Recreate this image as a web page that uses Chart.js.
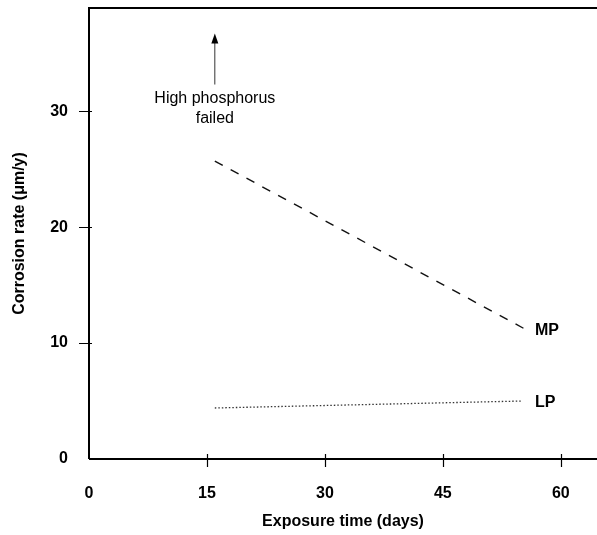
<!DOCTYPE html>
<html>
<head>
<meta charset="utf-8">
<script src="https://cdn.jsdelivr.net/npm/chart.js@4/dist/chart.umd.min.js"></script>
<style>
  html, body { margin: 0; padding: 0; background: #fff; overflow: hidden; }
  #wrap { width: 597px; height: 535px; }
</style>
</head>
<body>
<div id="wrap"><canvas id="corrosionChart" width="597" height="535"></canvas></div>
<script>
// values
const mpDays = [16, 56];
const mpRate = [25.7, 11.0];
const lpDays = [16, 55];
const lpRate = [4.4, 5.0];
const xTicks = [0, 15, 30, 45, 60];
const yTicks = [0, 10, 20, 30];

const boldFont = { family: 'Liberation Sans, Arial, sans-serif', size: 16, weight: 'bold' };

function toPoints(xs, ys) {
    return xs.map(function (x, i) { return { x: x, y: ys[i] }; });
}

function noPadding(scale) {
    scale.paddingTop = 0;
    scale.paddingBottom = 0;
    scale.paddingLeft = 0;
    scale.paddingRight = 0;
}

// frame, crossing tick marks and text notes
const extras = {
    id: 'extras',
    afterDraw: function (chart) {
        const c = chart.ctx;
        const a = chart.chartArea;
        const xs = chart.scales.x;
        const ys = chart.scales.y;
        c.save();
        c.strokeStyle = '#000';
        c.lineWidth = 2;
        c.beginPath();
        c.moveTo(a.left, a.bottom);
        c.lineTo(a.left, a.top);
        c.lineTo(a.right, a.top);
        c.moveTo(a.left, a.bottom);
        c.lineTo(a.right, a.bottom);
        c.stroke();

        c.lineWidth = 1.2;
        c.beginPath();
        xTicks.forEach(function (t) {
            if (t === 0) return;
            const px = Math.round(xs.getPixelForValue(t)) + 0.5;
            c.moveTo(px, a.bottom - 5);
            c.lineTo(px, a.bottom + 8);
        });
        yTicks.forEach(function (t) {
            if (t === 0) return;
            const py = Math.round(ys.getPixelForValue(t)) + 0.5;
            c.moveTo(a.left - 10, py);
            c.lineTo(a.left + 3, py);
        });
        c.stroke();

        // series labels
        c.fillStyle = '#000';
        c.font = 'bold 16px Liberation Sans, Arial, sans-serif';
        c.textAlign = 'left';
        c.textBaseline = 'middle';
        c.fillText('MP', xs.getPixelForValue(56.7), ys.getPixelForValue(11.1));
        c.fillText('LP', xs.getPixelForValue(56.7), ys.getPixelForValue(4.9));

        // note with arrow
        const ax = xs.getPixelForValue(16);
        c.font = '16px Liberation Sans, Arial, sans-serif';
        c.textAlign = 'center';
        c.fillText('High phosphorus', ax, ys.getPixelForValue(31.1));
        c.fillText('failed', ax, ys.getPixelForValue(29.4));

        c.strokeStyle = '#333';
        c.lineWidth = 1;
        c.beginPath();
        c.moveTo(ax, ys.getPixelForValue(32.3));
        c.lineTo(ax, ys.getPixelForValue(36.0));
        c.stroke();
        const tip = ys.getPixelForValue(36.7);
        c.fillStyle = '#000';
        c.beginPath();
        c.moveTo(ax, tip);
        c.lineTo(ax - 3.5, tip + 10);
        c.lineTo(ax + 3.5, tip + 10);
        c.closePath();
        c.fill();
        c.restore();
    }
};

const ctx = document.getElementById('corrosionChart').getContext('2d');

const corrosionChart = new Chart(ctx, {
    type: 'scatter',
    data: {
        datasets: [{
            label: 'MP',
            data: toPoints(mpDays, mpRate),
            showLine: true,
            borderColor: '#111',
            borderWidth: 1.4,
            borderDash: [9, 9],
            pointRadius: 0,
        }, {
            label: 'LP',
            data: toPoints(lpDays, lpRate),
            showLine: true,
            borderColor: '#333',
            borderWidth: 1.3,
            borderDash: [1.5, 2],
            pointRadius: 0,
        }]
    },
    options: {
        responsive: false,
        animation: false,
        layout: { padding: { top: 8, right: 0, left: 0, bottom: 0 } },
        scales: {
            x: {
                type: 'linear',
                min: 0,
                max: 64.6,
                afterBuildTicks: function (scale) {
                    scale.ticks = xTicks.map(function (v) { return { value: v }; });
                },
                afterFit: function (scale) { scale.height = 76; noPadding(scale); },
                grid: { display: false, drawTicks: false },
                border: { display: false },
                ticks: { color: '#000', font: boldFont, padding: 25 },
                title: {
                    display: true,
                    text: 'Exposure time (days)',
                    color: '#000',
                    font: boldFont,
                    padding: { top: 6 }
                }
            },
            y: {
                type: 'linear',
                min: 0,
                max: 38.9,
                afterBuildTicks: function (scale) {
                    scale.ticks = yTicks.map(function (v) { return { value: v }; });
                },
                afterFit: function (scale) { scale.width = 89; noPadding(scale); },
                grid: { display: false, drawTicks: false },
                border: { display: false },
                ticks: { color: '#000', font: boldFont, padding: 21 },
                title: {
                    display: true,
                    text: 'Corrosion rate (μm/y)',
                    color: '#000',
                    font: boldFont,
                    padding: { top: 10, bottom: 0 }
                }
            }
        },
        plugins: {
            legend: { display: false },
            tooltip: { enabled: false }
        }
    },
    plugins: [extras]
});
</script>
</body>
</html>
